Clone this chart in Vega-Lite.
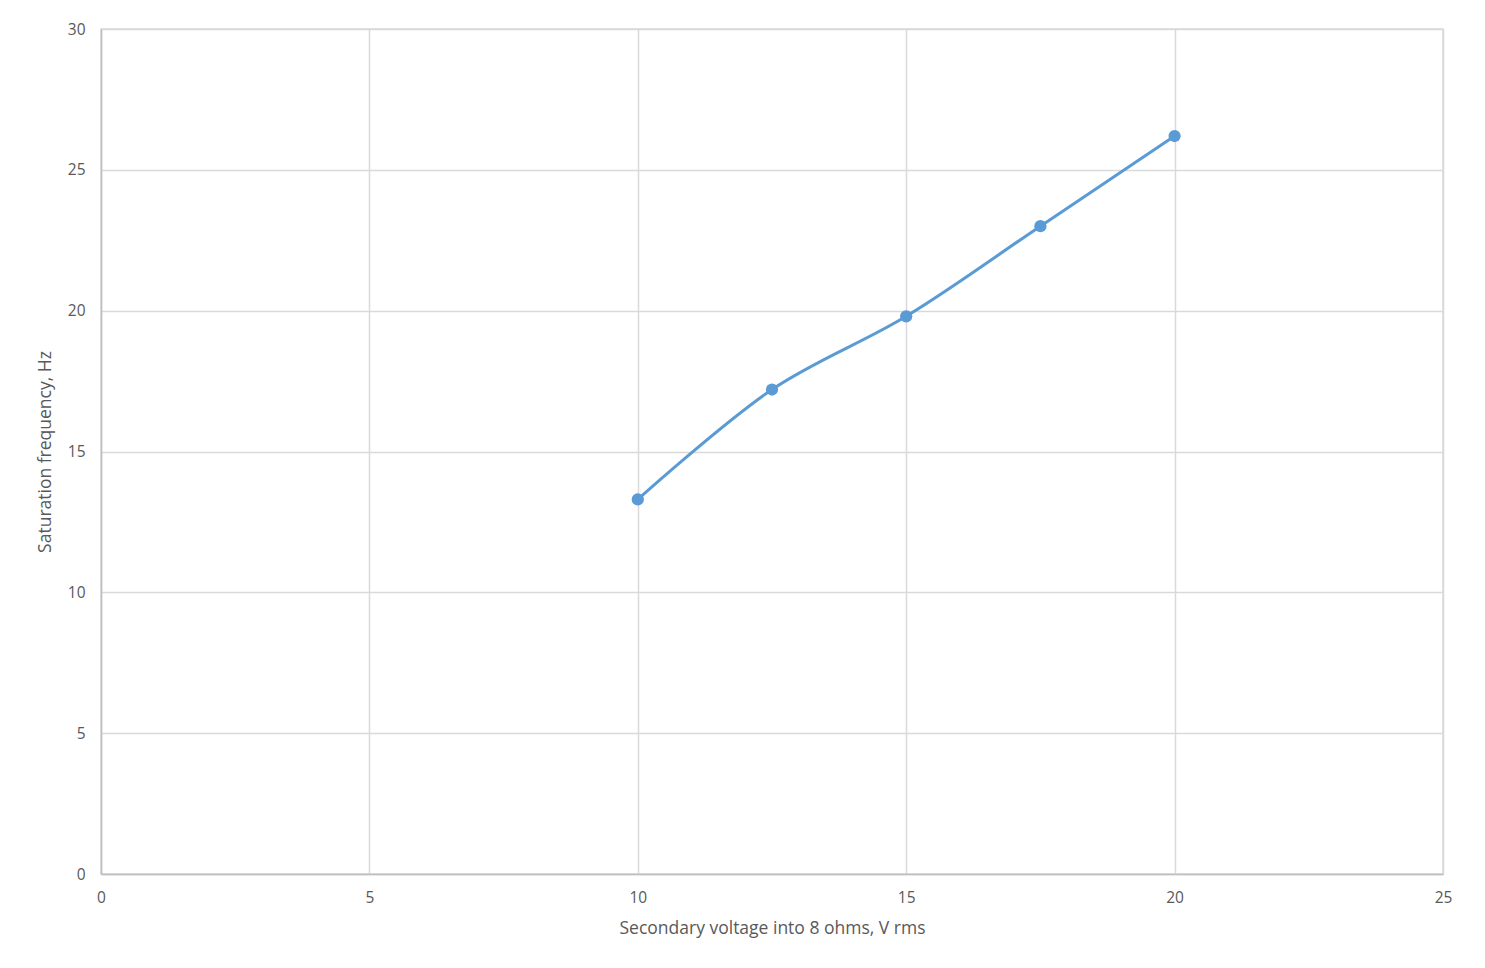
{
  "$schema": "https://vega.github.io/schema/vega-lite/v6.json",
  "autosize": "none",
  "width": 1342,
  "height": 845,
  "padding": {"left": 101, "top": 29, "right": 42, "bottom": 94},
  "background": "white",
  "config": {
    "view": {"stroke": "#d9d9d9", "strokeWidth": 1.5},
    "font": "Open Sans",
    "axis": {
      "labelFont": "Open Sans",
      "titleFont": "Open Sans",
      "labelColor": "#595959",
      "titleColor": "#595959",
      "labelFontSize": 15.5,
      "titleFontSize": 17.5,
      "titleFontWeight": "normal",
      "labelFlush": false,
      "labelOverlap": false,
      "gridColor": "#d9d9d9",
      "gridWidth": 1.5,
      "domainColor": "#bfbfbf",
      "domainWidth": 1.5,
      "ticks": false
    }
  },
  "data": {
    "values": [
      {"v": 10, "f": 13.3},
      {"v": 12.5, "f": 17.2},
      {"v": 15, "f": 19.8},
      {"v": 17.5, "f": 23.0},
      {"v": 20, "f": 26.2}
    ]
  },
  "encoding": {
    "x": {
      "field": "v", "type": "quantitative",
      "scale": {"domain": [0, 25], "nice": false},
      "axis": {"values": [0, 5, 10, 15, 20, 25], "title": "Secondary voltage into 8 ohms, V rms", "labelPadding": 16, "titlePadding": 14}
    },
    "y": {
      "field": "f", "type": "quantitative",
      "scale": {"domain": [0, 30], "nice": false},
      "axis": {"values": [0, 5, 10, 15, 20, 25, 30], "title": "Saturation frequency, Hz", "labelPadding": 16, "titlePadding": 13}
    }
  },
  "layer": [
    {"mark": {"type": "line", "interpolate": "catmull-rom", "color": "#5b9bd5", "strokeWidth": 3}},
    {"mark": {"type": "point", "filled": true, "opacity": 1, "color": "#5b9bd5", "size": 150}}
  ]
}
